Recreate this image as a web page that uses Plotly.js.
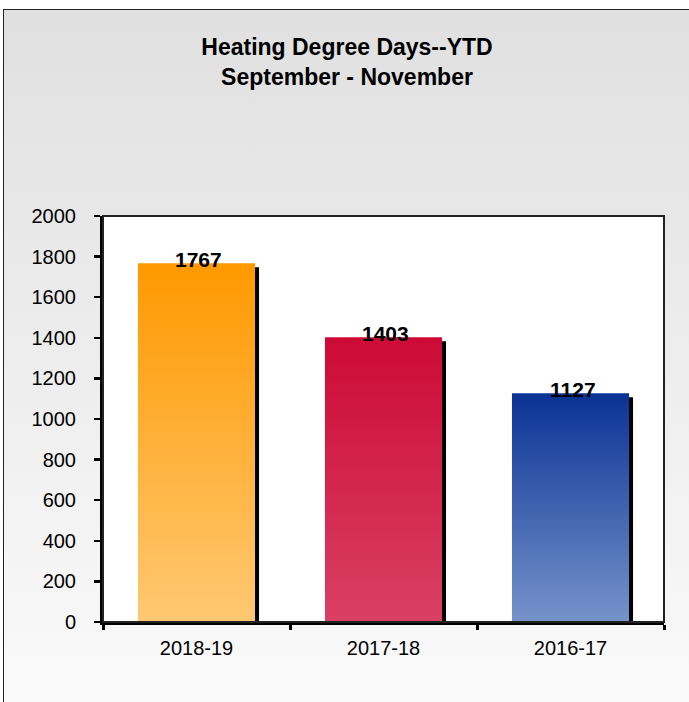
<!DOCTYPE html>
<html>
<head>
<meta charset="utf-8">
<script src="https://cdn.plot.ly/plotly-3.0.1.min.js"></script>
<style>
  html, body { margin: 0; padding: 0; background: #ffffff; }
  #frame { position: absolute; left: 3px; top: 9px; width: 720px; height: 720px;
           border: 1.5px solid #222; background: linear-gradient(to bottom, #e0e0e0 0%, #ececec 45%, #fbfbfb 100%); }
  #chart { position: absolute; left: 0; top: 0; width: 689px; height: 702px; }
</style>
</head>
<body>
<div id="frame"></div>
<div id="chart"></div>
<script>
// ---- data ----
const categories = ["2018-19", "2017-18", "2016-17"];
const values = [1767, 1403, 1127];
const yTickVals = [0, 200, 400, 600, 800, 1000, 1200, 1400, 1600, 1800, 2000];
const titleLines = ["Heating Degree Days--YTD", "September - November"];
// gradient colours per bar (top, bottom)
const gradTop = ["#ff9900", "#cc0a35", "#0a3294"];
const gradBottom = ["#ffc872", "#da4064", "#7693ca"];

const FONT = "Liberation Sans, Arial, sans-serif";
const BAR_W = 0.626;
const SHADOW_DX = 0.0214;   // category units (~4px)
const SHADOW_DY = 20;       // value units (~4px)

const shadowTrace = {
  type: "bar",
  x: categories,
  y: values.map(v => v - SHADOW_DY),
  width: BAR_W,
  offset: -BAR_W / 2 + SHADOW_DX,
  marker: { color: "#000000", line: { width: 0 } },
  hoverinfo: "skip",
  showlegend: false
};

const mainTrace = {
  type: "bar",
  x: categories,
  y: values,
  width: BAR_W,
  offset: -BAR_W / 2,
  marker: { color: gradTop, line: { width: 0 } },
  showlegend: false
};

const annotations = categories.map((c, i) => ({
  x: c, y: values[i], xref: "x", yref: "y",
  text: "<b>" + values[i] + "</b>",
  showarrow: false,
  xanchor: "center", yanchor: "middle",
  xshift: 2, yshift: 4,
  font: { family: FONT, size: 21, color: "#000000" }
}));

const layout = {
  width: 689, height: 702,
  paper_bgcolor: "rgba(0,0,0,0)",
  plot_bgcolor: "#ffffff",
  margin: { l: 103, r: 25, t: 216, b: 80, pad: 0 },
  barmode: "overlay",
  title: {
    text: titleLines.join("<br>"),
    x: 347 / 689, xanchor: "center", xref: "container",
    y: 1 - 55 / 702, yanchor: "middle", yref: "container",
    font: { family: FONT, size: 23, color: "#000000", weight: "bold" }
  },
  xaxis: {
    type: "category",
    tickson: "boundaries",
    ticks: "outside", ticklen: 5, tickwidth: 3, tickcolor: "#000",
    showline: true, linewidth: 3, linecolor: "#000",
    showgrid: false, zeroline: false,
    tickfont: { family: FONT, size: 20, color: "#000" },
    ticklabelstandoff: 6,
    fixedrange: true
  },
  yaxis: {
    range: [0, 2000],
    tickvals: yTickVals,
    ticktext: yTickVals.map(String),
    ticks: "outside", ticklen: 6, tickwidth: 2.5, tickcolor: "#000",
    showline: true, linewidth: 3, linecolor: "#000",
    showgrid: false, zeroline: false,
    tickfont: { family: FONT, size: 20, color: "#000" },
    ticklabelstandoff: 14,
    fixedrange: true
  },
  shapes: [{
    type: "rect", xref: "paper", yref: "paper", x0: 0, x1: 1, y0: 0, y1: 1,
    line: { color: "#222", width: 2 }, layer: "above"
  }],
  annotations: annotations
};

function applyGradients(gd) {
  const svg = gd.querySelector("svg.main-svg");
  if (!svg) return;
  let defs = svg.querySelector("defs");
  const NS = "http://www.w3.org/2000/svg";
  if (!defs) { defs = document.createElementNS(NS, "defs"); svg.insertBefore(defs, svg.firstChild); }
  categories.forEach((c, i) => {
    const id = "barGrad" + i;
    if (!defs.querySelector("#" + id)) {
      const lg = document.createElementNS(NS, "linearGradient");
      lg.setAttribute("id", id);
      lg.setAttribute("x1", "0"); lg.setAttribute("y1", "0");
      lg.setAttribute("x2", "0"); lg.setAttribute("y2", "1");
      const s1 = document.createElementNS(NS, "stop");
      s1.setAttribute("offset", "0"); s1.setAttribute("stop-color", gradTop[i]);
      const s2 = document.createElementNS(NS, "stop");
      s2.setAttribute("offset", "1"); s2.setAttribute("stop-color", gradBottom[i]);
      lg.appendChild(s1); lg.appendChild(s2);
      defs.appendChild(lg);
    }
  });
  const traces = gd.querySelectorAll(".barlayer .trace");
  if (traces.length < 2) return;
  const paths = traces[1].querySelectorAll(".point path");
  paths.forEach((p, i) => { p.style.fill = "url(#barGrad" + i + ")"; p.style.fillOpacity = 1; });
}

const gd = document.getElementById("chart");
Plotly.newPlot(gd, [shadowTrace, mainTrace], layout, { staticPlot: true, displayModeBar: false })
  .then(() => { applyGradients(gd); gd.on && gd.on("plotly_afterplot", () => applyGradients(gd)); });
</script>
</body>
</html>
